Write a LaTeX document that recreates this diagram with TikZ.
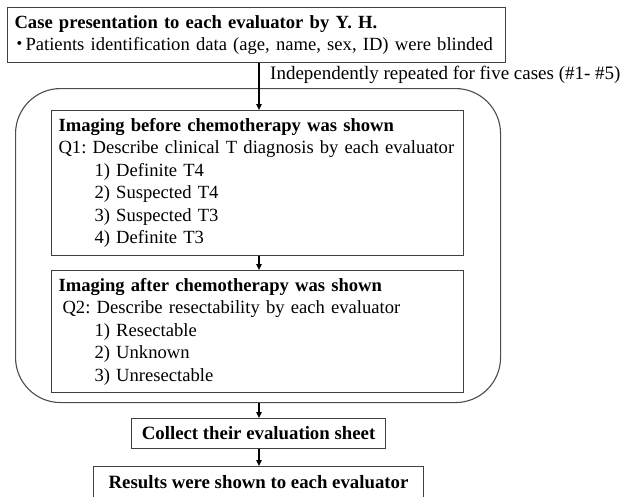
\documentclass[tikz,border=0pt]{standalone}
\usepackage{fontspec}
\setmainfont{Liberation Serif}
\newfontfamily\cjk{Noto Sans CJK JP}
\usetikzlibrary{arrows.meta}
\begin{document}
\frenchspacing
\begin{tikzpicture}[x=1pt,y=-1pt,
  box/.style={draw=black!75, line width=1.1pt, rectangle, align=left, inner xsep=7pt, inner ysep=0pt,
    font=\fontsize{18.6}{22.5}\selectfont},
  cbox/.style={draw=black!75, line width=1.1pt, rectangle, align=center, inner sep=0pt,
    font=\fontsize{18.8}{22.5}\selectfont\bfseries},
  arr/.style={draw=black, line width=1.4pt, -{Triangle[width=5.5pt,length=6pt]}},
  lbl/.style={inner sep=0pt, font=\fontsize{19}{22.5}\selectfont}
]
\useasboundingbox (0,0) rectangle (624,496);
\coordinate (ax) at (259,0);

\node[box, anchor=north west, minimum width=498, minimum height=55, text width=484] (top) at (7,7) {%
\textbf{Case presentation to each evaluator by Y. H.}\\
\mbox{\makebox[11pt][c]{\cjk ・}Patients identification data (age, name, sex, ID) were blinded}};

\node[draw=black!70, line width=1.1pt, rounded corners=45pt, minimum width=485, minimum height=314, anchor=north west, inner sep=0pt] (cont) at (15,88) {};

\node[box, anchor=north west, minimum width=412, minimum height=145, text width=398] (b1) at (51,110) {%
\textbf{Imaging before chemotherapy was shown}\\
Q1: Describe clinical T diagnosis by each evaluator\\
\hspace*{36pt}1) Definite T4\\
\hspace*{36pt}2) Suspected T4\\
\hspace*{36pt}3) Suspected T3\\
\hspace*{36pt}4) Definite T3};

\node[box, anchor=north west, minimum width=412, minimum height=122, text width=398] (b2) at (51,270) {%
\textbf{Imaging after chemotherapy was shown}\\
\hspace*{4pt}Q2: Describe resectability by each evaluator\\
\hspace*{36pt}1) Resectable\\
\hspace*{36pt}2) Unknown\\
\hspace*{36pt}3) Unresectable};

\node[cbox, anchor=north west, minimum width=254, minimum height=30] (b3) at (131,418) {Collect their evaluation sheet};

\node[cbox, anchor=north west, minimum width=330, minimum height=32] (b4) at (93,466) {Results were shown to each evaluator};

\node[lbl, anchor=west] (rep) at (270,75) {Independently repeated for five cases (\#1- \#5)};

\draw[arr] (top.south -| ax) -- (b1.north -| ax);
\draw[arr] (b1.south -| ax) -- (b2.north -| ax);
\draw[arr] (cont.south -| ax) -- (b3.north -| ax);
\draw[arr] (b3.south -| ax) -- (b4.north -| ax);
\end{tikzpicture}
\end{document}
